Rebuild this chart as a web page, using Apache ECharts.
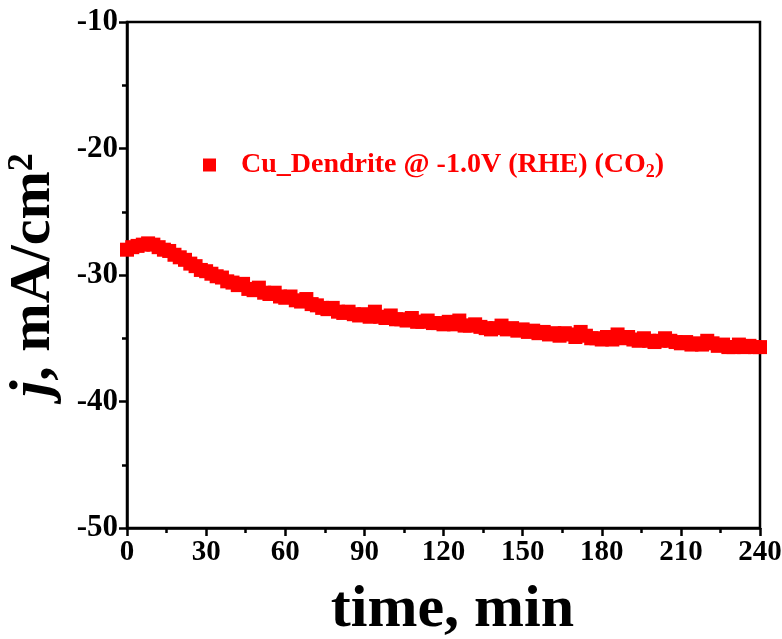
<!DOCTYPE html>
<html>
<head>
<meta charset="utf-8">
<script src="https://cdn.jsdelivr.net/npm/echarts@6/dist/echarts.min.js"></script>
<style>
  html, body { margin: 0; padding: 0; background: #fff; }
  #chart { width: 782px; height: 639px; }
</style>
</head>
<body>
<div id="chart"></div>
<script>
// time, min
var times = [0, 2, 4, 6, 8, 10, 12, 14, 16, 18, 20, 22, 24, 26, 28, 30, 32, 34, 36, 38,
	40, 42, 44, 46, 48, 50, 52, 54, 56, 58, 60, 62, 64, 66, 68, 70, 72, 74, 76, 78,
	80, 82, 84, 86, 88, 90, 92, 94, 96, 98, 100, 102, 104, 106, 108, 110, 112, 114, 116, 118,
	120, 122, 124, 126, 128, 130, 132, 134, 136, 138, 140, 142, 144, 146, 148, 150, 152, 154, 156, 158,
	160, 162, 164, 166, 168, 170, 172, 174, 176, 178, 180, 182, 184, 186, 188, 190, 192, 194, 196, 198,
	200, 202, 204, 206, 208, 210, 212, 214, 216, 218, 220, 222, 224, 226, 228, 230, 232, 234, 236, 238, 240];

// current density, mA/cm2
var currentDensity = [-28.0, -27.8, -27.7, -27.6, -27.5, -27.6, -27.8, -28.0, -28.1, -28.4,
	-28.6, -28.8, -29.1, -29.3, -29.6, -29.7, -29.9, -30.1, -30.2, -30.5,
	-30.6, -30.8, -30.7, -31.1, -31.2, -31.0, -31.4, -31.5, -31.4, -31.7,
	-31.8, -31.7, -32.0, -32.1, -31.9, -32.3, -32.4, -32.6, -32.7, -32.6,
	-32.9, -33.0, -32.9, -33.1, -33.2, -33.1, -33.3, -32.9, -33.3, -33.4,
	-33.2, -33.5, -33.5, -33.6, -33.4, -33.7, -33.7, -33.6, -33.8, -33.8,
	-33.9, -33.7, -33.9, -33.6, -34.0, -34.0, -33.9, -34.1, -34.2, -34.3,
	-34.2, -34.0, -34.3, -34.2, -34.4, -34.3, -34.5, -34.4, -34.6, -34.5,
	-34.7, -34.6, -34.8, -34.6, -34.7, -34.9, -34.5, -34.8, -35.0, -35.0,
	-35.1, -34.9, -35.1, -34.7, -35.0, -34.9, -35.1, -35.2, -35.0, -35.2,
	-35.3, -35.2, -35.0, -35.2, -35.3, -35.4, -35.3, -35.5, -35.4, -35.5,
	-35.2, -35.4, -35.6, -35.5, -35.7, -35.7, -35.5, -35.7, -35.6, -35.7, -35.7];

var xTicks = [0, 30, 60, 90, 120, 150, 180, 210, 240];
var yTicks = [-50, -40, -30, -20, -10];

var seriesName = 'Cu_Dendrite @ -1.0V (RHE) (CO2)';

var font = '"Times New Roman", "Liberation Serif", serif';

var chart = echarts.init(document.getElementById('chart'));

var points = times.map(function (t, i) {
	return [t, currentDensity[i]];
});

var option = {
	backgroundColor: '#fff',
	animation: false,
	grid: {
		left: 127,
		right: 22,
		top: 22,
		bottom: 111,
		containLabel: false,
		outerBoundsMode: 'none',
		show: true,
		borderColor: '#000',
		borderWidth: 2.5
	},
	legend: {
		left: 198,
		top: 146,
		itemWidth: 13,
		itemHeight: 13,
		data: [seriesName],
		formatter: function () {
			return '{sp|}Cu_Dendrite @ -1.0V (RHE) (CO{sub|2})';
		},
		textStyle: {
			color: '#ff0000',
			fontFamily: font,
			fontWeight: 'bold',
			fontSize: 28,
			rich: {
				sp: { width: 20 },
				sub: {
					color: '#ff0000',
					fontFamily: font,
					fontWeight: 'bold',
					fontSize: 18,
					verticalAlign: 'bottom',
					padding: [14, 0, 0, 0]
				}
			}
		}
	},
	xAxis: {
		type: 'value',
		min: xTicks[0],
		max: xTicks[xTicks.length - 1],
		interval: 30,
		name: 'time, min',
		nameLocation: 'middle',
		nameGap: 52,
		nameTextStyle: {
			color: '#000',
			fontFamily: font,
			fontWeight: 'bold',
			fontSize: 60,
			padding: [0, 0, 0, 18]
		},
		axisLine: { lineStyle: { color: '#000', width: 2.5 } },
		axisTick: { inside: false, length: 8, lineStyle: { color: '#000', width: 2.5 } },
		minorTick: { show: true, splitNumber: 2, length: 5, lineStyle: { color: '#000', width: 2.5 } },
		splitLine: { show: false },
		axisLabel: {
			color: '#000',
			fontFamily: font,
			fontWeight: 'bold',
			fontSize: 29,
			margin: 10
		}
	},
	yAxis: {
		type: 'value',
		min: yTicks[0],
		max: yTicks[yTicks.length - 1],
		interval: 10,
		name: '{i|j}, mA/cm{sup|2}',
		nameLocation: 'middle',
		nameGap: 64,
		nameTextStyle: {
			color: '#000',
			fontFamily: font,
			fontWeight: 'bold',
			fontSize: 58,
			rich: {
				i: {
					color: '#000',
					fontFamily: font,
					fontWeight: 'bold',
					fontStyle: 'italic',
					fontSize: 58
				},
				sup: {
					color: '#000',
					fontFamily: font,
					fontWeight: 'bold',
					fontSize: 36,
					verticalAlign: 'top',
					padding: [0, 0, 16, 0]
				}
			}
		},
		axisLine: { lineStyle: { color: '#000', width: 2.5 } },
		axisTick: { inside: false, length: 8, lineStyle: { color: '#000', width: 2.5 } },
		minorTick: { show: true, splitNumber: 2, length: 5, lineStyle: { color: '#000', width: 2.5 } },
		splitLine: { show: false },
		axisLabel: {
			color: '#000',
			fontFamily: font,
			fontWeight: 'bold',
			fontSize: 31,
			margin: 9
		}
	},
	series: [
		{
			name: seriesName,
			type: 'scatter',
			symbol: 'rect',
			symbolSize: 14,
			itemStyle: { color: '#ff0000', opacity: 1 },
			data: points
		}
	]
};

chart.setOption(option);
</script>
</body>
</html>
